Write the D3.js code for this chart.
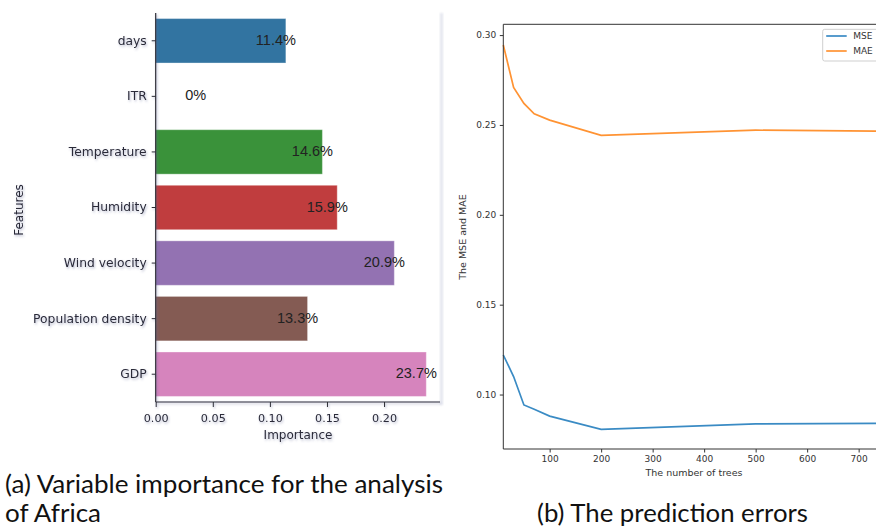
<!DOCTYPE html>
<html>
<head>
<meta charset="utf-8">
<script src="https://cdn.jsdelivr.net/npm/d3@7"></script>
<style>
  body { margin: 0; background: #fff; }
  svg { display: block; }
</style>
</head>
<body>
<div id="chart"></div>
<script>
// (a) variable importance
var features = ["days", "ITR", "Temperature", "Humidity", "Wind velocity", "Population density", "GDP"];
var importance = [0.114, 0, 0.146, 0.159, 0.209, 0.133, 0.237];
var importanceLabels = ["11.4%", "0%", "14.6%", "15.9%", "20.9%", "13.3%", "23.7%"];
var importanceTicks = [0, 0.05, 0.10, 0.15, 0.20];

// (b) prediction errors
var trees = [10, 30, 50, 70, 100, 200, 500, 1000];
var mse = [0.122, 0.110, 0.0942, 0.0918, 0.0880, 0.0806, 0.0837, 0.0842];
var mae = [0.2945, 0.2709, 0.2620, 0.2562, 0.2527, 0.2442, 0.2471, 0.2459];
var errorTicks = [0.10, 0.15, 0.20, 0.25, 0.30];
var treeTicks = [100, 200, 300, 400, 500, 600, 700];

var barColors = ["#3274a1", "#e1812c", "#3a923a", "#c03d3e", "#9372b2", "#845b53", "#d684bd"];

var width = 876, height = 528;

var svg = d3.select("#chart")
  .append("svg")
    .attr("width", width)
    .attr("height", height);

// blurry shadow like the screenshot of the left plot
var defs = svg.append("defs");
defs.append("filter")
    .attr("id", "shadow")
    .attr("x", "-20%").attr("y", "-20%").attr("width", "140%").attr("height", "140%")
  .append("feDropShadow")
    .attr("dx", 1).attr("dy", 1.5)
    .attr("stdDeviation", 1)
    .attr("flood-color", "#5c6190")
    .attr("flood-opacity", 0.45);
defs.append("filter")
    .attr("id", "blur")
  .append("feGaussianBlur")
    .attr("stdDeviation", 1);

// ---------- left panel ----------
var gA = svg.append("g");

// faint edge of the pasted image
gA.append("rect")
    .attr("x", 440).attr("y", 13)
    .attr("width", 3).attr("height", 392)
    .attr("fill", "#e3e5ee")
    .attr("filter", "url(#blur)");

var x = d3.scaleLinear()
    .domain([0, 0.249])
    .range([155.7, 440]);

var y = d3.scaleBand()
    .domain(features)
    .range([13, 402])
    .paddingInner(0.2)
    .paddingOuter(0.1);

gA.selectAll("rect.bar")
    .data(features)
    .enter()
    .append("rect")
    .attr("class", "bar")
    .attr("x", x(0))
    .attr("y", function(d) { return y(d); })
    .attr("width", function(d, i) { return x(importance[i]) - x(0); })
    .attr("height", y.bandwidth())
    .attr("fill", function(d, i) { return barColors[i]; })
    .attr("stroke", "#ffffff")
    .attr("stroke-opacity", 0.35)
    .attr("stroke-width", 1);

gA.selectAll("text.val")
    .data(features)
    .enter()
    .append("text")
    .attr("class", "val")
    .attr("x", function(d, i) { return importance[i] > 0 ? x(importance[i]) - 10 : x(0) + 40; })
    .attr("y", function(d) { return y(d) + y.bandwidth() / 2 + 4; })
    .attr("text-anchor", "middle")
    .style("font-family", "'Liberation Sans', Arial, sans-serif")
    .style("font-size", "14.5px")
    .style("fill", "#222")
    .text(function(d, i) { return importanceLabels[i]; });

var axA = gA.append("g").attr("filter", "url(#shadow)");

var yAxisA = axA.append("g")
    .attr("transform", "translate(" + x(0) + ",0)")
    .call(d3.axisLeft(y).tickSize(4).tickPadding(5))
    .call(function(g) { g.select(".domain").remove(); });
yAxisA.selectAll(".tick text")
    .style("font-family", "'DejaVu Sans', sans-serif")
    .style("font-size", "12.3px");

axA.append("line")
    .attr("x1", x(0)).attr("x2", x(0))
    .attr("y1", 13).attr("y2", 402)
    .attr("stroke", "#2b2b33").attr("stroke-width", 1.2);

var xAxisA = axA.append("g")
    .attr("transform", "translate(0,402)")
    .call(d3.axisBottom(x).tickValues(importanceTicks).tickFormat(d3.format(".2f")).tickSize(5).tickPadding(7))
    .call(function(g) { g.select(".domain").remove(); });
xAxisA.selectAll(".tick text")
    .style("font-family", "'DejaVu Sans', sans-serif")
    .style("font-size", "11.2px");

axA.append("line")
    .attr("x1", x(0)).attr("x2", 440)
    .attr("y1", 402).attr("y2", 402)
    .attr("stroke", "#2b2b33").attr("stroke-width", 1.2);

axA.selectAll(".tick text").style("fill", "#2a2a38");
axA.selectAll(".tick line").attr("stroke", "#2b2b33");

axA.append("text")
    .attr("x", 298).attr("y", 439)
    .attr("text-anchor", "middle")
    .style("font-family", "'DejaVu Sans', sans-serif")
    .style("font-size", "12px")
    .style("fill", "#2a2a38")
    .text("Importance");

axA.append("text")
    .attr("transform", "translate(23,210) rotate(-90)")
    .attr("text-anchor", "middle")
    .style("font-family", "'DejaVu Sans', sans-serif")
    .style("font-size", "12px")
    .style("fill", "#2a2a38")
    .text("Features");

// ---------- right panel ----------
var gB = svg.append("g");

var x2 = d3.scaleLinear()
    .domain([10, 1000])
    .range([503.3, 503.3 + 990 * 0.515]);

var y2 = d3.scaleLinear()
    .domain([0.0697, 0.306])
    .range([449, 24.3]);

var line = function(vals) {
  return d3.line()
      .x(function(d, i) { return x2(trees[i]); })
      .y(function(d) { return y2(d); })(vals);
};

gB.append("path")
    .attr("d", line(mse))
    .attr("fill", "none")
    .attr("stroke", "#3a8bc4")
    .attr("stroke-width", 1.7);

gB.append("path")
    .attr("d", line(mae))
    .attr("fill", "none")
    .attr("stroke", "#ff9333")
    .attr("stroke-width", 1.7);

gB.append("g")
    .attr("transform", "translate(503.3,0)")
    .call(d3.axisLeft(y2).tickValues(errorTicks).tickFormat(d3.format(".2f")).tickSize(3.5).tickPadding(3.5))
    .call(function(g) { g.select(".domain").remove(); });

gB.append("g")
    .attr("transform", "translate(0,449)")
    .call(d3.axisBottom(x2).tickValues(treeTicks).tickSize(3.5).tickPadding(3.5))
    .call(function(g) { g.select(".domain").remove(); });

gB.selectAll(".tick text")
    .style("font-family", "'DejaVu Sans', sans-serif")
    .style("font-size", "9px")
    .style("fill", "#333");
gB.selectAll(".tick line").attr("stroke", "#333");

// spines: left, bottom, top
gB.append("path")
    .attr("d", "M876,24.3H503.3V449H876")
    .attr("fill", "none")
    .attr("stroke", "#333")
    .attr("stroke-width", 1);

gB.append("text")
    .attr("x", 694).attr("y", 476)
    .attr("text-anchor", "middle")
    .style("font-family", "'DejaVu Sans', sans-serif")
    .style("font-size", "9.5px")
    .style("fill", "#333")
    .text("The number of trees");

gB.append("text")
    .attr("transform", "translate(466,237) rotate(-90)")
    .attr("text-anchor", "middle")
    .style("font-family", "'DejaVu Sans', sans-serif")
    .style("font-size", "9.5px")
    .style("fill", "#333")
    .text("The MSE and MAE");

// legend
var legend = gB.append("g").attr("transform", "translate(822.7,29.3)");
legend.append("rect")
    .attr("width", 80).attr("height", 31.7)
    .attr("rx", 2)
    .attr("fill", "#fff").attr("fill-opacity", 0.8)
    .attr("stroke", "#cfcfcf");

var legendItems = [{name: "MSE", color: "#3a8bc4"}, {name: "MAE", color: "#ff9333"}];
legend.selectAll("line.key")
    .data(legendItems)
    .enter()
    .append("line")
    .attr("class", "key")
    .attr("x1", 3.5).attr("x2", 24)
    .attr("y1", function(d, i) { return 6.7 + i * 15; })
    .attr("y2", function(d, i) { return 6.7 + i * 15; })
    .attr("stroke", function(d) { return d.color; })
    .attr("stroke-width", 1.7);
legend.selectAll("text.key")
    .data(legendItems)
    .enter()
    .append("text")
    .attr("class", "key")
    .attr("x", 30.5)
    .attr("y", function(d, i) { return 10 + i * 15; })
    .style("font-family", "'DejaVu Sans', sans-serif")
    .style("font-size", "9px")
    .style("fill", "#333")
    .text(function(d) { return d.name; });

// ---------- captions ----------
var captions = [
  {text: "(a) Variable importance for the analysis", x: 5, y: 493, len: 438},
  {text: "of Africa", x: 5, y: 521.5, len: 96},
  {text: "(b) The prediction errors", x: 537, y: 521.5, len: 271}
];
svg.selectAll("text.caption")
    .data(captions)
    .enter()
    .append("text")
    .attr("class", "caption")
    .attr("x", function(d) { return d.x; })
    .attr("y", function(d) { return d.y; })
    .attr("textLength", function(d) { return d.len; })
    .attr("lengthAdjust", "spacingAndGlyphs")
    .style("font-family", "Lato, 'Open Sans', sans-serif")
    .style("font-size", "25px")
    .style("fill", "#111")
    .text(function(d) { return d.text; });
</script>
</body>
</html>
